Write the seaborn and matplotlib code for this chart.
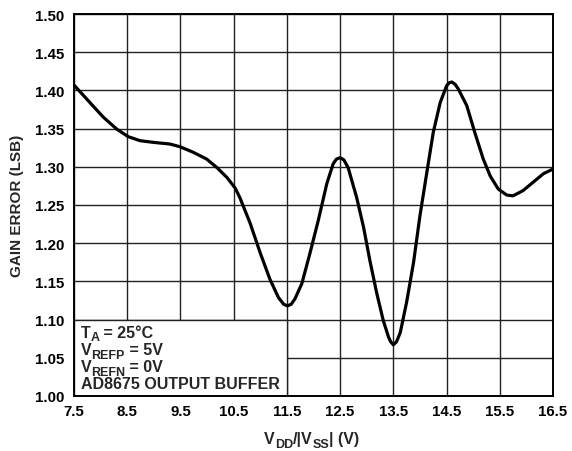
import matplotlib
matplotlib.use("Agg")
import matplotlib.pyplot as plt
from matplotlib.patches import Rectangle
import seaborn as sns
import pandas as pd

# Supply voltage (V) and measured gain error (LSB)
supply_v = [7.50, 7.80, 8.05, 8.30, 8.52, 8.74, 8.99, 9.30, 9.49, 9.74,
            9.99, 10.18, 10.37, 10.53, 10.62, 10.81, 11.00, 11.18, 11.34,
            11.44, 11.51, 11.58, 11.65, 11.78, 11.93, 12.09, 12.25, 12.37,
            12.43, 12.50, 12.57, 12.65, 12.81, 12.94, 13.06, 13.19, 13.31,
            13.41, 13.45, 13.50, 13.56, 13.63, 13.75, 13.88, 14.00, 14.13,
            14.25, 14.38, 14.50, 14.55, 14.60, 14.66, 14.72, 14.88, 15.03,
            15.19, 15.32, 15.47, 15.63, 15.75, 15.94, 16.13, 16.32, 16.50]
gain_error = [1.407, 1.384, 1.365, 1.3495, 1.3394, 1.3342, 1.332, 1.3298,
              1.3263, 1.319, 1.3102, 1.2993, 1.2863, 1.272, 1.259, 1.226,
              1.187, 1.153, 1.129, 1.120, 1.118, 1.120, 1.127, 1.147, 1.186,
              1.230, 1.278, 1.304, 1.310, 1.312, 1.309, 1.299, 1.260, 1.221,
              1.177, 1.134, 1.099, 1.077, 1.071, 1.067, 1.071, 1.083, 1.123,
              1.175, 1.236, 1.293, 1.345, 1.384, 1.406, 1.410, 1.411, 1.408,
              1.402, 1.380, 1.345, 1.310, 1.288, 1.271, 1.263, 1.262, 1.269,
              1.280, 1.291, 1.297]

x_ticks = [7.5, 8.5, 9.5, 10.5, 11.5, 12.5, 13.5, 14.5, 15.5, 16.5]
y_ticks = [1.00, 1.05, 1.10, 1.15, 1.20, 1.25, 1.30, 1.35, 1.40, 1.45, 1.50]

MAIN = 11.5   # body text size (pt)
SUB = 9.0     # subscript size (pt)
DROP = -2.5   # subscript baseline shift (pt)

# Test conditions, as (text, is_subscript) runs per line
conditions = [
    [("T", False), ("A", True), (" = 25°C", False)],
    [("V", False), ("REFP", True), (" = 5V", False)],
    [("V", False), ("REFN", True), (" = 0V", False)],
    [("AD8675 OUTPUT BUFFER", False)],
]
x_label = [("V", False), ("DD", True), ("/|V", False), ("SS", True), ("| (V)", False)]
y_label = "GAIN ERROR (LSB)"

sns.set_theme(style="white")
plt.rcParams.update({
    "font.family": ["Liberation Sans", "DejaVu Sans"],
    "font.weight": "bold",
})


def rich_text(ax, x, y, runs, transform, zorder=5):
    """Draw a line of text made of normal and subscript runs, left to right."""
    prev, prev_dy = None, 0.0
    for s, is_sub in runs:
        size = SUB if is_sub else MAIN
        dy = DROP if is_sub else 0.0
        if prev is None:
            prev = ax.text(x, y, s, fontsize=size, fontweight="bold",
                           transform=transform, ha="left", va="bottom",
                           zorder=zorder, clip_on=False)
        else:
            prev = ax.annotate(s, xy=(1, 0), xycoords=prev,
                               xytext=(0, dy - prev_dy),
                               textcoords="offset points", fontsize=size,
                               fontweight="bold", ha="left", va="bottom",
                               zorder=zorder, annotation_clip=False)
        prev_dy = dy


df = pd.DataFrame({"v": supply_v, "err": gain_error})

fig = plt.figure(figsize=(5.72, 4.52), dpi=100)
ax = fig.add_axes([0.1294, 0.1217, 0.8374, 0.8451])

sns.lineplot(data=df, x="v", y="err", ax=ax, color="black", lw=2.3,
             estimator=None, sort=False, zorder=3,
             solid_joinstyle="round", solid_capstyle="round")

ax.set_xlim(7.5, 16.5)
ax.set_ylim(1.00, 1.50)
ax.set_xticks(x_ticks)
ax.set_yticks(y_ticks)
ax.set_xticklabels([f"{t:.1f}" for t in x_ticks], fontsize=10.8, fontweight="bold")
ax.set_yticklabels([f"{t:.2f}" for t in y_ticks], fontsize=10.8, fontweight="bold")
ax.tick_params(axis="x", length=0, pad=6.0, colors="black")
ax.tick_params(axis="y", length=0, pad=7.0, colors="black")
ax.set_xlabel("")
ax.set_ylabel("")

ax.set_axisbelow(True)
ax.grid(True, color="#222222", lw=1.0)
for s in ax.spines.values():
    s.set_color("black")
    s.set_linewidth(1.4)

# Conditions box in the lower-left corner
ax.add_patch(Rectangle((7.5, 1.00), 4.0, 0.10, facecolor="white",
                       edgecolor="#222222", lw=1.0, zorder=1.5))
for i, runs in enumerate(conditions):
    rich_text(ax, 7.625, 1.0735 - i * 0.0225, runs, ax.transData)

# Axis titles
rich_text(ax, 264 / 572, 4.5 / 452, x_label, fig.transFigure)
fig.text(17.5 / 572, 0.5 * (0.1217 + 0.9668), y_label, rotation=90,
         fontsize=MAIN - 0.5, fontweight="bold", ha="center", va="center")

fig.savefig("out.png", dpi=100, facecolor="white")
